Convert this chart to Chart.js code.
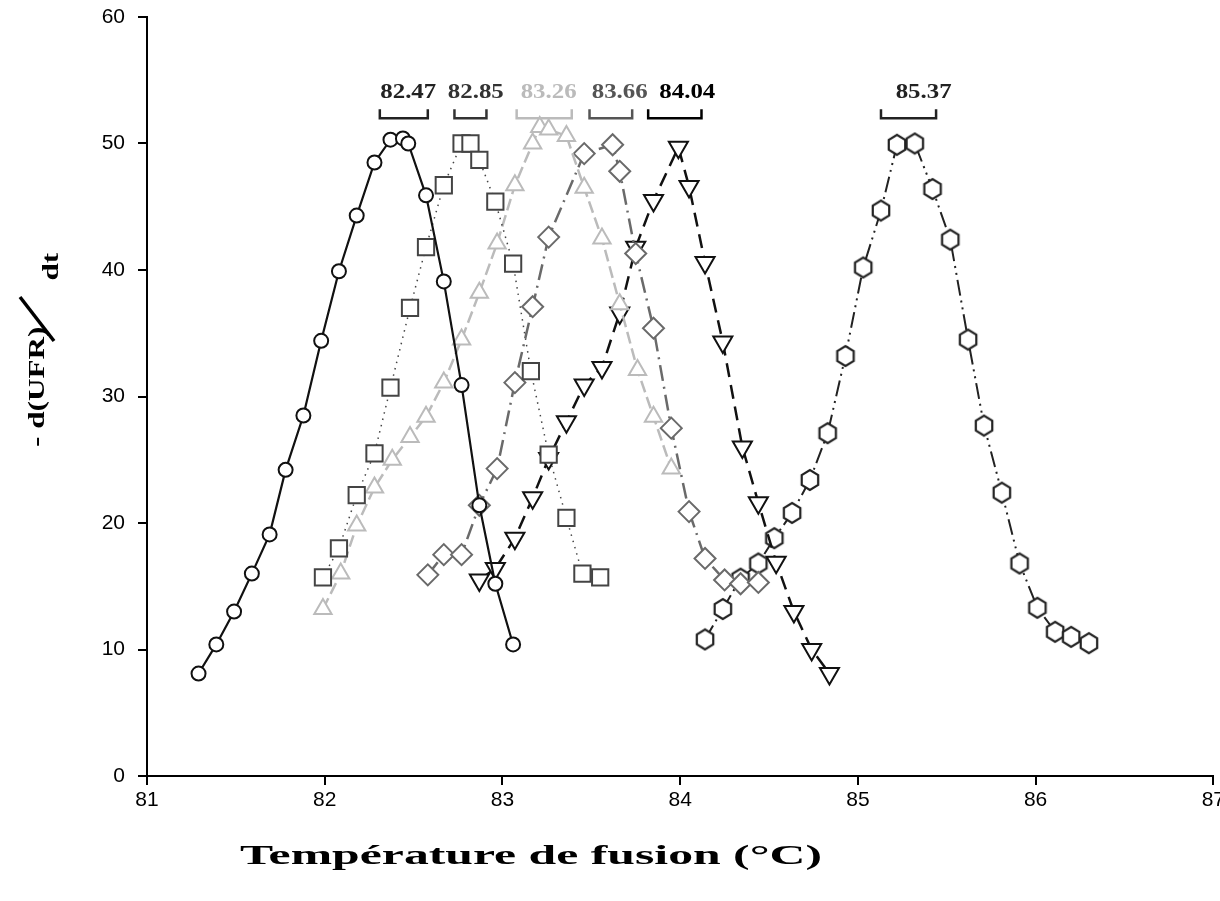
<!DOCTYPE html>
<html>
<head>
<meta charset="utf-8">
<script src="https://cdn.jsdelivr.net/npm/chart.js@4.4.0/dist/chart.umd.min.js"></script>
<style>
  html, body { margin: 0; padding: 0; background: #fff; overflow: hidden; }
  canvas { display: block; }
</style>
</head>
<body>
<canvas id="meltChart" width="1228" height="901"></canvas>
<script>
// melting peaks, -d(UFR)/dt against temperature
const circleT = [81.29, 81.39, 81.49, 81.59, 81.69, 81.78, 81.88, 81.98, 82.08, 82.18, 82.28, 82.37, 82.44, 82.47, 82.57, 82.67, 82.77, 82.87, 82.96, 83.06];
const circleV = [8.1, 10.4, 13.0, 16.0, 19.1, 24.2, 28.5, 34.4, 39.9, 44.3, 48.5, 50.3, 50.4, 50.0, 45.9, 39.1, 30.9, 21.4, 15.2, 10.4];

const squareT = [81.99, 82.08, 82.18, 82.28, 82.37, 82.48, 82.57, 82.67, 82.77, 82.82, 82.87, 82.96, 83.06, 83.16, 83.26, 83.36, 83.45, 83.55];
const squareV = [15.7, 18.0, 22.2, 25.5, 30.7, 37.0, 41.8, 46.7, 50.0, 50.0, 48.7, 45.4, 40.5, 32.0, 25.4, 20.4, 16.0, 15.7];

const triUpT = [81.99, 82.09, 82.18, 82.28, 82.38, 82.48, 82.57, 82.67, 82.77, 82.87, 82.97, 83.07, 83.17, 83.21, 83.26, 83.36, 83.46, 83.56, 83.66, 83.76, 83.85, 83.95];
const triUpV = [13.2, 16.0, 19.8, 22.8, 25.0, 26.8, 28.4, 31.1, 34.5, 38.2, 42.1, 46.7, 50.0, 51.3, 51.1, 50.6, 46.5, 42.5, 37.3, 32.1, 28.4, 24.3];

const diamondT = [82.58, 82.67, 82.77, 82.87, 82.97, 83.07, 83.17, 83.26, 83.46, 83.62, 83.66, 83.75, 83.85, 83.95, 84.05, 84.14, 84.25, 84.34, 84.44];
const diamondV = [15.9, 17.5, 17.5, 21.4, 24.3, 31.1, 37.1, 42.6, 49.2, 49.9, 47.8, 41.3, 35.4, 27.5, 20.9, 17.2, 15.5, 15.2, 15.3];

const triDownT = [82.87, 82.96, 83.07, 83.17, 83.26, 83.36, 83.46, 83.56, 83.66, 83.75, 83.85, 83.99, 84.05, 84.14, 84.24, 84.35, 84.44, 84.54, 84.64, 84.74, 84.84];
const triDownV = [15.5, 16.4, 18.8, 22.0, 25.1, 28.0, 30.9, 32.3, 36.6, 41.8, 45.5, 49.7, 46.6, 40.6, 34.3, 26.0, 21.6, 16.9, 13.0, 10.0, 8.1];

const hexT = [84.14, 84.24, 84.34, 84.44, 84.53, 84.63, 84.73, 84.83, 84.93, 85.03, 85.13, 85.22, 85.32, 85.42, 85.52, 85.62, 85.71, 85.81, 85.91, 86.01, 86.11, 86.20, 86.30];
const hexV = [10.8, 13.2, 15.6, 16.8, 18.8, 20.8, 23.4, 27.1, 33.2, 40.2, 44.7, 49.9, 50.0, 46.4, 42.4, 34.5, 27.7, 22.4, 16.8, 13.3, 11.4, 11.0, 10.5];

// Tm labels and the bracket range drawn under each one
const tmLabels = ["82.47", "82.85", "83.26", "83.66", "84.04", "85.37"];
const tmValues = [82.47, 82.85, 83.26, 83.66, 84.04, 85.37];
const tmLow = [82.31, 82.73, 83.08, 83.49, 83.82, 85.13];
const tmHigh = [82.58, 82.91, 83.39, 83.73, 84.12, 85.44];
const tmColors = ["#222", "#333", "#bbb", "#555", "#000", "#222"];

const yTicks = [0, 10, 20, 30, 40, 50, 60];
const xTicks = [81, 82, 83, 84, 85, 86, 87];

function pts(xs, ys) {
  return xs.map((x, i) => ({ x: x, y: ys[i] }));
}

// hexagon marker (no built-in one in Chart.js)
function hexMarker(color) {
  const c = document.createElement("canvas");
  c.width = 24; c.height = 24;
  const g = c.getContext("2d");
  g.beginPath();
  for (let i = 0; i < 6; i++) {
    const a = Math.PI / 2 + i * Math.PI / 3;
    const px = 12 + 9.5 * Math.cos(a), py = 12 + 10 * Math.sin(a);
    if (i === 0) g.moveTo(px, py); else g.lineTo(px, py);
  }
  g.closePath();
  g.fillStyle = "#fff";
  g.fill();
  g.lineWidth = 2.2;
  g.strokeStyle = color;
  g.stroke();
  return c;
}

function series(data, color, style, radius, dash, lineW, rot) {
  return {
    data: data,
    showLine: true,
    borderColor: color,
    borderWidth: lineW,
    borderDash: dash,
    backgroundColor: "#fff",
    pointStyle: style,
    pointRadius: radius,
    pointRotation: rot || 0,
    pointBorderWidth: 2,
    pointBorderColor: color,
    pointBackgroundColor: "#fff",
    tension: 0
  };
}

// draw text stretched to a given width
function wideText(ctx, text, cx, cy, width) {
  const w = ctx.measureText(text).width;
  ctx.save();
  ctx.translate(cx, cy);
  ctx.scale(width / w, 1);
  ctx.fillText(text, 0, 0);
  ctx.restore();
}

const tmPlugin = {
  id: "tmBrackets",
  afterDatasetsDraw(chart) {
    const ctx = chart.ctx;
    const xs = chart.scales.x, ys = chart.scales.y;
    const yBar = ys.getPixelForValue(52.0);
    const yText = ys.getPixelForValue(54.0);
    ctx.save();
    tmLabels.forEach((lab, i) => {
      const x1 = xs.getPixelForValue(tmLow[i]);
      const x2 = xs.getPixelForValue(tmHigh[i]);
      ctx.strokeStyle = tmColors[i];
      ctx.lineWidth = 2.5;
      ctx.beginPath();
      ctx.moveTo(x1, yBar - 9);
      ctx.lineTo(x1, yBar);
      ctx.lineTo(x2, yBar);
      ctx.lineTo(x2, yBar - 9);
      ctx.stroke();
      ctx.fillStyle = tmColors[i];
      ctx.font = "bold 20px 'Liberation Serif'";
      ctx.textAlign = "center";
      ctx.textBaseline = "middle";
      wideText(ctx, lab, xs.getPixelForValue(tmValues[i]), yText, 56);
    });
    ctx.restore();
  }
};

const titlesPlugin = {
  id: "axisTitles",
  afterDraw(chart) {
    const ctx = chart.ctx;
    ctx.save();
    ctx.fillStyle = "#000";
    ctx.font = "bold 28px 'Liberation Serif'";
    ctx.textAlign = "center";
    ctx.textBaseline = "middle";
    wideText(ctx, "Température de fusion (°C)", 531, 857, 582);

    // y title: - d(UFR) / dt, rotated
    ctx.translate(44, 447);
    ctx.rotate(-Math.PI / 2);
    ctx.textAlign = "left";
    ctx.textBaseline = "alphabetic";
    ctx.font = "bold 24px 'Liberation Serif'";
    ctx.save();
    ctx.scale(1.3, 1);
    ctx.fillText("- d(UFR)", 0, 0);
    ctx.restore();
    ctx.strokeStyle = "#000";
    ctx.lineWidth = 3.5;
    ctx.beginPath();
    ctx.moveTo(106, 10);
    ctx.lineTo(150, -24);
    ctx.stroke();
    ctx.save();
    ctx.scale(1.3, 1);
    ctx.fillText("dt", 128, 14);
    ctx.restore();
    ctx.restore();
  }
};

new Chart(document.getElementById("meltChart"), {
  type: "scatter",
  data: {
    datasets: [
      series(pts(circleT, circleV), "#111", "circle", 7, [], 2.2),
      series(pts(squareT, squareV), "#444", "rect", 11.5, [1.5, 5], 1.5),
      series(pts(triUpT, triUpV), "#bbb", "triangle", 10, [12, 5], 2.5),
      series(pts(diamondT, diamondV), "#6a6a6a", "rectRot", 10.5, [16, 6, 2, 6], 2.5),
      series(pts(triDownT, triDownV), "#111", "triangle", 11, [14, 8], 2.5, 180),
      series(pts(hexT, hexV), "#222", hexMarker("#222"), 10, [16, 5, 2, 5, 2, 5], 2)
    ]
  },
  options: {
    responsive: false,
    animation: false,
    events: [],
    layout: { padding: { top: 17, right: 2, left: 0, bottom: 0 } },
    plugins: { legend: { display: false }, tooltip: { enabled: false } },
    scales: {
      x: {
        type: "linear",
        min: xTicks[0],
        max: xTicks[xTicks.length - 1],
        afterBuildTicks: s => { s.ticks = xTicks.map(v => ({ value: v })); },
        afterFit: s => { s.height = 125; },
        border: { display: true, color: "#000", width: 2 },
        grid: { drawOnChartArea: false, drawTicks: true, tickLength: 9, color: "#000", lineWidth: 2 },
        ticks: { color: "#000", font: { family: "'Liberation Sans'", size: 21 }, padding: 3 }
      },
      y: {
        min: yTicks[0],
        max: yTicks[yTicks.length - 1],
        afterBuildTicks: s => { s.ticks = yTicks.map(v => ({ value: v })); },
        afterFit: s => { s.width = 147; s.paddingTop = 0; s.paddingBottom = 0; },
        border: { display: true, color: "#000", width: 2 },
        grid: { drawOnChartArea: false, drawTicks: true, tickLength: 9, color: "#000", lineWidth: 2 },
        ticks: { color: "#000", font: { family: "'Liberation Sans'", size: 21 }, padding: 13 }
      }
    }
  },
  plugins: [tmPlugin, titlesPlugin]
});
</script>
</body>
</html>
